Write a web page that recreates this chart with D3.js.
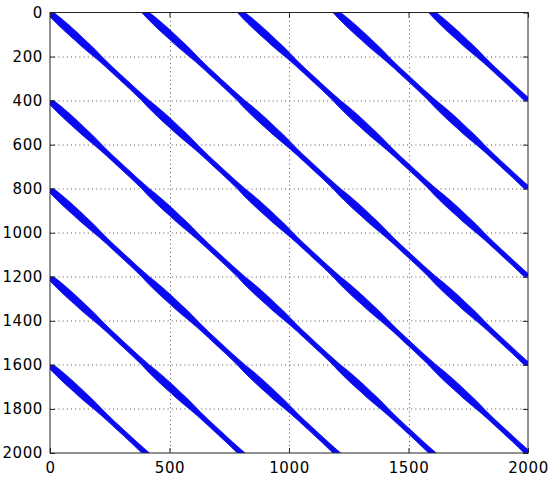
<!DOCTYPE html>
<html>
<head>
<meta charset="utf-8">
<script src="https://cdn.jsdelivr.net/npm/d3@7"></script>
<style>
  body { margin: 0; background: #fff; }
</style>
</head>
<body>
<div id="chart"></div>
<script>
// matrix size and band layout (spy-style plot)
var matrixSize = 2000;
var blockSize = 400;
var bandOffsets = [-1600, -1200, -800, -400, 0, 400, 800, 1200, 1600]; // column - row
// half spread of the nonzeros around each diagonal (in columns), sampled every 25 rows of a block
var profileRows = [0, 25, 50, 75, 100, 125, 150, 175, 200, 225, 250, 275, 300, 325, 350, 375];
var profileHalfWidth = [16, 20, 22, 23, 23, 22, 22, 20, 17, 15, 14, 14, 14, 14, 14, 15];
var xTicks = [0, 500, 1000, 1500, 2000];
var yTicks = [0, 200, 400, 600, 800, 1000, 1200, 1400, 1600, 1800, 2000];

var W = 550, H = 479;
var margin = { top: 12.5, right: 22, bottom: 26, left: 50 };
var iw = W - margin.left - margin.right,
    ih = H - margin.top - margin.bottom;

var x = d3.scaleLinear().domain([0, matrixSize]).range([0, iw]);
var y = d3.scaleLinear().domain([0, matrixSize]).range([0, ih]);

var svg = d3.select("#chart").append("svg")
    .attr("width", W)
    .attr("height", H);

svg.append("rect").attr("width", W).attr("height", H).attr("fill", "#fff");

var g = svg.append("g")
    .attr("transform", "translate(" + margin.left + "," + margin.top + ")");

svg.append("defs").append("clipPath").attr("id", "plotclip")
    .append("rect").attr("width", iw).attr("height", ih);

// dotted grid
var grid = g.append("g").attr("class", "grid")
    .attr("stroke", "#555")
    .attr("stroke-width", 1)
    .attr("stroke-dasharray", "1,3.2");
grid.selectAll(".gx").data(xTicks.slice(1, -1)).enter().append("line")
    .attr("x1", function (d) { return Math.round(x(d)) + 0.5; })
    .attr("x2", function (d) { return Math.round(x(d)) + 0.5; })
    .attr("y1", 0).attr("y2", ih);
grid.selectAll(".gy").data(yTicks.slice(1, -1)).enter().append("line")
    .attr("y1", function (d) { return Math.round(y(d)) + 0.5; })
    .attr("y2", function (d) { return Math.round(y(d)) + 0.5; })
    .attr("x1", 0).attr("x2", iw);

// bands
function bandPoints(k) {
    var r0 = Math.max(0, -k), r1 = Math.min(matrixSize, matrixSize - k);
    var left = [], right = [];
    for (var r = r0; r <= r1; r += 25) {
        var i = ((r % blockSize) / 25);
        var w = profileHalfWidth[i];
        left.push([r + k - w, r]);
        right.push([r + k + w, r]);
    }
    return left.concat(right.reverse());
}

var line = d3.line()
    .x(function (d) { return x(d[0]); })
    .y(function (d) { return y(d[1]); });

g.append("g").attr("clip-path", "url(#plotclip)")
    .selectAll("path").data(bandOffsets).enter().append("path")
    .attr("d", function (k) { return line(bandPoints(k)) + "Z"; })
    .attr("fill", "#0a0af0")
    .attr("stroke", "#0a0af0")
    .attr("stroke-width", 0.8)
    .attr("stroke-linejoin", "round");

// axes, MATLAB style: ticks inside, on all four sides
var tickLen = 5;
var fmt = d3.format("d");
var xAxisB = d3.axisBottom(x).tickValues(xTicks).tickFormat(fmt).tickSizeInner(-tickLen).tickSizeOuter(0).tickPadding(9);
var xAxisT = d3.axisTop(x).tickValues(xTicks).tickSizeInner(-tickLen).tickSizeOuter(0).tickFormat("");
var yAxisL = d3.axisLeft(y).tickValues(yTicks).tickFormat(fmt).tickSizeInner(-tickLen).tickSizeOuter(0).tickPadding(7);
var yAxisR = d3.axisRight(y).tickValues(yTicks).tickSizeInner(-tickLen).tickSizeOuter(0).tickFormat("");

function styleAxis(sel) {
    sel.select(".domain").remove();
    sel.selectAll(".tick line").attr("stroke", "#222");
    sel.selectAll("text").attr("fill", "#000")
        .style("font-family", "'DejaVu Sans', sans-serif")
        .style("font-size", "15px")
        .style("letter-spacing", "0.6px");
}

g.append("g").attr("transform", "translate(0," + ih + ")").call(xAxisB).call(styleAxis);
g.append("g").call(xAxisT).call(styleAxis);
g.append("g").call(yAxisL).call(styleAxis);
g.append("g").attr("transform", "translate(" + iw + ",0)").call(yAxisR).call(styleAxis);

// box
g.append("rect")
    .attr("x", 0).attr("y", 0)
    .attr("width", iw).attr("height", ih)
    .attr("fill", "none")
    .attr("stroke", "#222")
    .attr("stroke-width", 1);
</script>
</body>
</html>
